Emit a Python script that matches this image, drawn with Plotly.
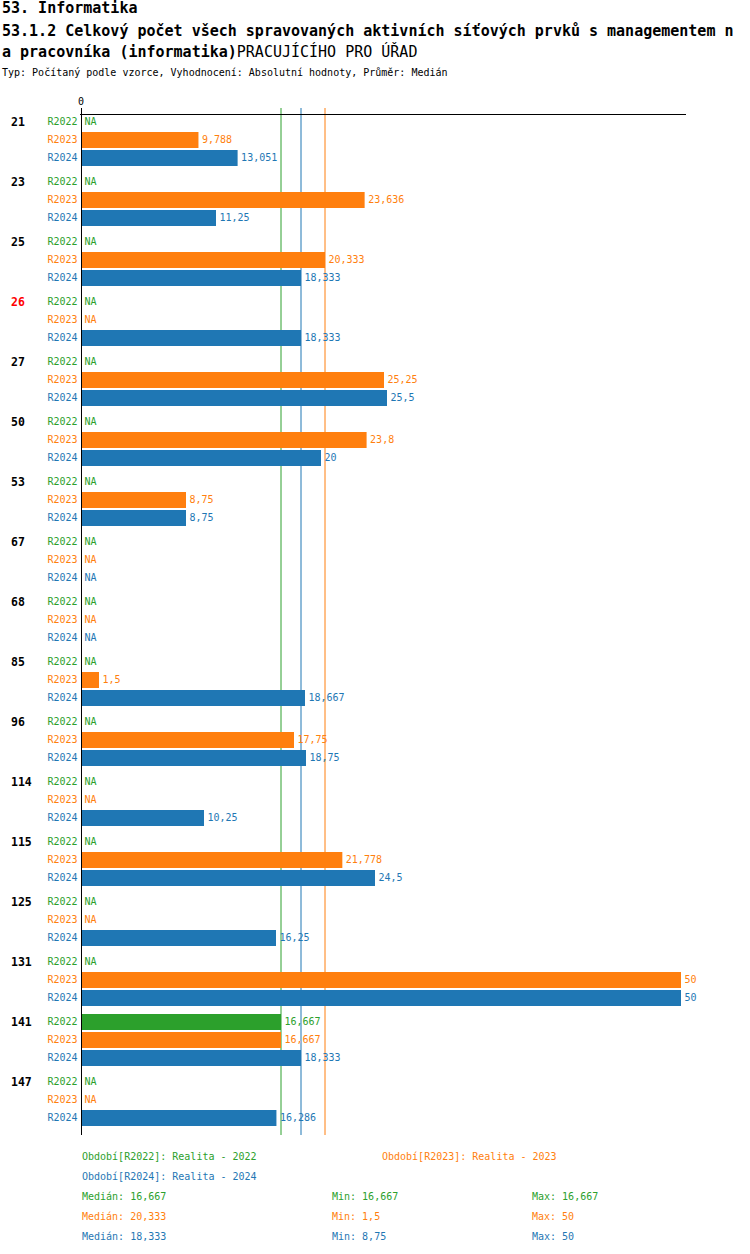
import plotly.graph_objects as go
import numpy as np

# ---------------- data ----------------
groups = ['21', '23', '25', '26', '27', '50', '53', '67', '68', '85', '96',
          '114', '115', '125', '131', '141', '147']
highlight_groups = ['26']
series_names = ['R2022', 'R2023', 'R2024']
series_desc = ['Realita - 2022', 'Realita - 2023', 'Realita - 2024']
r2022 = [None, None, None, None, None, None, None, None, None, None, None,
         None, None, None, None, 16.667, None]
r2023 = [9.788, 23.636, 20.333, None, 25.25, 23.8, 8.75, None, None, 1.5, 17.75,
         None, 21.778, None, 50, 16.667, None]
r2024 = [13.051, 11.25, 18.333, 18.333, 25.5, 20, 8.75, None, None, 18.667, 18.75,
         10.25, 24.5, 16.25, 50, 18.333, 16.286]
series_values = [r2022, r2023, r2024]
colors = ['#2ca02c', '#ff7f0e', '#1f77b4']

title1 = '53. Informatika'
title2 = '53.1.2 Celkový počet všech spravovaných aktivních síťových prvků s managementem n'
title3a = 'a pracovníka (informatika)'
title3b = 'PRACUJÍCÍHO PRO ÚŘAD'
subtitle = 'Typ: Počítaný podle vzorce, Vyhodnocení: Absolutní hodnoty, Průměr: Medián'

# ---------------- layout constants ----------------
W, H = 750, 1254
ML, MR, MT, MB = 81, 64, 108, 119
PW = W - ML - MR
PH = H - MT - MB
PX_PER_UNIT = 12.0
ROW0, GSTEP, SSTEP = 122, 60, 18
FONT = 'DejaVu Sans Mono'


def fmt(v):
    return f'{v:g}'.replace('.', ',')


def xp(px):
    return (px - ML) / PW


def yp(py):
    return (H - MB - py) / PH


fig = go.Figure()

for s, (name, vals, col) in enumerate(zip(series_names, series_values, colors)):
    ys = [ROW0 + g * GSTEP + s * SSTEP for g in range(len(groups))]
    fig.add_trace(go.Bar(
        x=vals, y=ys, orientation='h', width=16,
        marker=dict(color=col, line=dict(width=0)),
        showlegend=False, hoverinfo='skip'))
    fig.add_trace(go.Scatter(
        x=[v if v is not None else 0 for v in vals], y=ys,
        text=[fmt(v) if v is not None else 'NA' for v in vals],
        mode='markers+text', textposition='middle right',
        marker=dict(size=4, color='rgba(0,0,0,0)'),
        textfont=dict(family=FONT, size=10, color=col),
        cliponaxis=False, showlegend=False, hoverinfo='skip'))
    fig.add_trace(go.Scatter(
        x=[0] * len(groups), y=ys, text=[name] * len(groups),
        mode='markers+text', textposition='middle left',
        marker=dict(size=4, color='rgba(0,0,0,0)'),
        textfont=dict(family=FONT, size=10, color=col),
        cliponaxis=False, showlegend=False, hoverinfo='skip'))

shapes = []
stats = []
for vals, col in zip(series_values, colors):
    arr = np.array([v for v in vals if v is not None], dtype=float)
    med, mn, mx = float(np.median(arr)), float(arr.min()), float(arr.max())
    stats.append((med, mn, mx))
    shapes.append(dict(type='line', xref='x', yref='y', x0=med, x1=med, y0=108, y1=1135,
                       line=dict(color=col, width=1), layer='below'))

# axis lines
shapes.append(dict(type='line', xref='paper', yref='y', x0=xp(80), x1=1, y0=114.5, y1=114.5,
                   line=dict(color='black', width=1), layer='above'))
shapes.append(dict(type='line', xref='x', yref='y', x0=0, x1=0, y0=108, y1=1135,
                   line=dict(color='black', width=2), layer='above'))

annotations = []


def ann(text, xpix, ypix, size, color='black', xanchor='left'):
    annotations.append(dict(text=text, x=xp(xpix), y=yp(ypix), xref='paper', yref='paper',
                            xanchor=xanchor, yanchor='middle', showarrow=False,
                            font=dict(family=FONT, size=size, color=color)))


ann('<b>' + title1 + '</b>', 0, 8, 15)
ann('<b>' + title2 + '</b>', 0, 31, 15)
ann('<b>' + title3a + '</b>' + title3b, 0, 51, 15)
ann(subtitle, 0, 73, 10)

for g, grp in enumerate(groups):
    ann('<b>' + grp + '</b>', 9, ROW0 + g * GSTEP, 11.5,
        'red' if grp in highlight_groups else 'black')

legend_pos = [(80, 1156), (380, 1156), (80, 1176)]
for (name, desc, col, (lx, ly)) in zip(series_names, series_desc, colors, legend_pos):
    ann(f'Období[{name}]: {desc}', lx, ly, 10, col)

for i, ((med, mn, mx), col) in enumerate(zip(stats, colors)):
    y = 1196 + 20 * i
    ann(f'Medián: {fmt(round(med, 3))}', 80, y, 10, col)
    ann(f'Min: {fmt(round(mn, 3))}', 330, y, 10, col)
    ann(f'Max: {fmt(round(mx, 3))}', 530, y, 10, col)

fig.update_layout(
    width=W, height=H,
    margin=dict(l=ML, r=MR, t=MT, b=MB, pad=0),
    paper_bgcolor='white', plot_bgcolor='white',
    barmode='overlay', showlegend=False,
    xaxis=dict(range=[0, PW / PX_PER_UNIT], side='top', tickvals=[0], ticktext=['0'],
               tickfont=dict(family=FONT, size=10, color='black'), ticks='',
               showgrid=False, zeroline=False, showline=False, fixedrange=True),
    yaxis=dict(range=[1135, 108], showticklabels=False, ticks='', showgrid=False,
               zeroline=False, showline=False, fixedrange=True),
    shapes=shapes, annotations=annotations,
)

fig.write_html('out.html', config={'displayModeBar': False},
               post_script="document.body.style.margin='0';document.body.style.overflow='hidden';")
